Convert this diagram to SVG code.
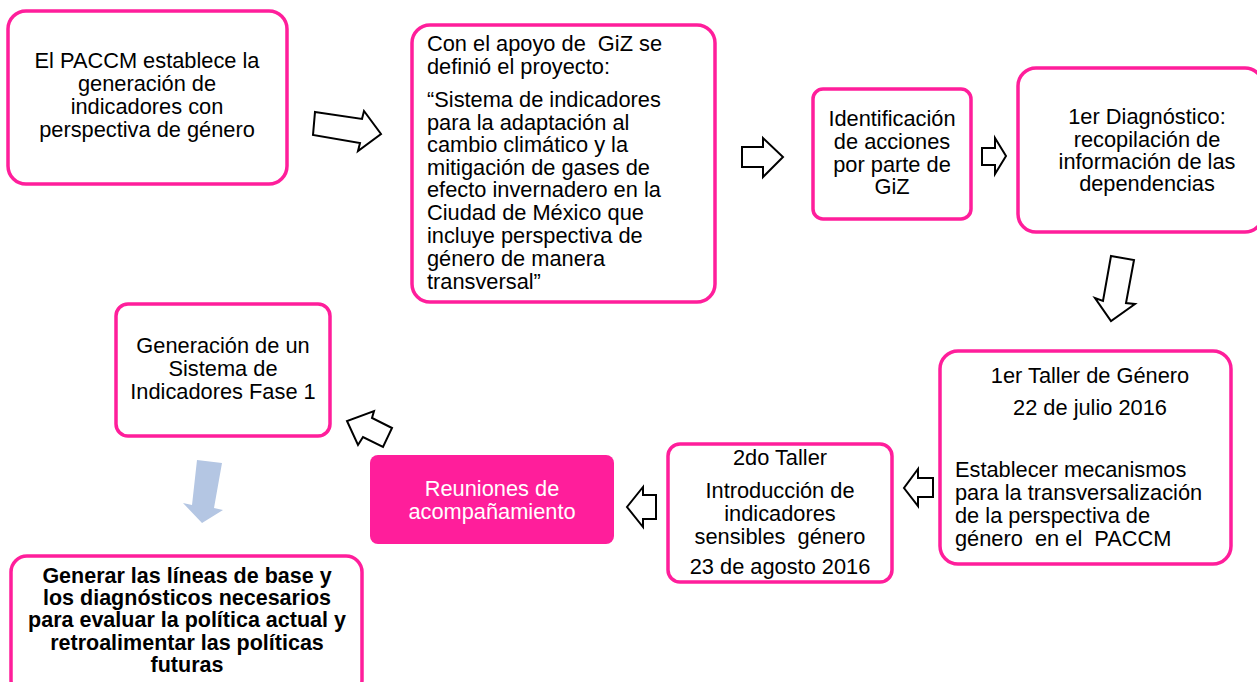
<svg xmlns="http://www.w3.org/2000/svg" width="1257" height="682" viewBox="0 0 1257 682">
<style>
.box{fill:#fff;stroke:#FF1E9B;stroke-width:3.5}
.t{font-family:"Liberation Sans",Arial,sans-serif;font-size:21.8px;fill:#000;white-space:pre}
.c{text-anchor:middle}
.b{font-weight:bold;font-size:21.5px}
.w{fill:#fff}
.arr{fill:#fff;stroke:#000;stroke-width:2;stroke-linejoin:miter}
</style>
<rect width="1257" height="682" fill="#fff"/>
<g id="connectors">
<polygon class="arr" points="315,112 362,119 364,111 381,134 358,151 360,143 313,135"/>
<polygon class="arr" points="742,147 763,147 763,138 783,157 763,177 763,167 742,167"/>
<polygon class="arr" points="982,148 995,148 995,138 1006,156 995,174 995,165 982,165"/>
<polygon class="arr" points="1111,256 1134,260 1126,303 1135,304 1111,321 1095,298 1103,301"/>
<polygon class="arr" points="933,478 918,478 918,469 904,488 918,506 918,497 933,497"/>
<polygon class="arr" points="656,495 643,495 643,487 627,507 643,527 643,519 656,519"/>
<polygon class="arr" points="392,428 372,418 374,411 347,421 358,445 363,437 383,447"/>
<polygon fill="#B4C6E3" points="197,460 222,463 214,508 223,510 202,523 183,503 192,505"/>
</g>
<g id="n1">
<rect class="box" x="8" y="11" width="279" height="173" rx="18"/>
<text class="t c"><tspan x="147" y="68">El PACCM establece la</tspan><tspan x="147" y="91">generación de</tspan><tspan x="147" y="114">indicadores con</tspan><tspan x="147" y="137">perspectiva de género</tspan></text>
</g>
<g id="n2">
<rect class="box" x="412" y="25" width="303" height="277" rx="18"/>
<text class="t"><tspan x="427" y="51">Con el apoyo de  GiZ se</tspan><tspan x="427" y="74">definió el proyecto:</tspan><tspan x="427" y="107">“Sistema de indicadores</tspan><tspan x="427" y="130">para la adaptación al</tspan><tspan x="427" y="152">cambio climático y la</tspan><tspan x="427" y="175">mitigación de gases de</tspan><tspan x="427" y="197">efecto invernadero en la</tspan><tspan x="427" y="220">Ciudad de México que</tspan><tspan x="427" y="243">incluye perspectiva de</tspan><tspan x="427" y="266">género de manera</tspan><tspan x="427" y="289">transversal”</tspan></text>
</g>
<g id="n3">
<rect class="box" x="813" y="89" width="158" height="130" rx="10"/>
<text class="t c"><tspan x="892" y="126">Identificación</tspan><tspan x="892" y="149">de acciones</tspan><tspan x="892" y="172">por parte de</tspan><tspan x="892" y="194">GiZ</tspan></text>
</g>
<g id="n4">
<rect class="box" x="1018" y="68" width="245" height="164" rx="18"/>
<text class="t c"><tspan x="1147" y="124">1er Diagnóstico:</tspan><tspan x="1147" y="147">recopilación de</tspan><tspan x="1147" y="169">información de las</tspan><tspan x="1147" y="191">dependencias</tspan></text>
</g>
<g id="n5">
<rect class="box" x="940" y="351" width="291" height="213" rx="18"/>
<text class="t c"><tspan x="1090" y="383">1er Taller de Género</tspan><tspan x="1090" y="415">22 de julio 2016</tspan></text>
<text class="t"><tspan x="955" y="477">Establecer mecanismos</tspan><tspan x="955" y="500">para la transversalización</tspan><tspan x="955" y="523">de la perspectiva de</tspan><tspan x="955" y="546">género  en el  PACCM</tspan></text>
</g>
<g id="n6">
<rect class="box" x="668" y="444" width="224" height="138" rx="12"/>
<text class="t c"><tspan x="780" y="465">2do Taller</tspan><tspan x="780" y="498">Introducción de</tspan><tspan x="780" y="521">indicadores</tspan><tspan x="780" y="544">sensibles  género</tspan><tspan x="780" y="574">23 de agosto 2016</tspan></text>
</g>
<g id="n7">
<rect x="370" y="455" width="244" height="89" rx="8" fill="#FF1E9B"/>
<text class="t c w"><tspan x="492" y="496">Reuniones de</tspan><tspan x="492" y="519">acompañamiento</tspan></text>
</g>
<g id="n8">
<rect class="box" x="116" y="304" width="214" height="132" rx="12"/>
<text class="t c"><tspan x="223" y="353">Generación de un</tspan><tspan x="223" y="376">Sistema de</tspan><tspan x="223" y="399">Indicadores Fase 1</tspan></text>
</g>
<g id="n9">
<rect class="box" x="11" y="556" width="351" height="140" rx="16"/>
<text class="t c b"><tspan x="187" y="583">Generar las líneas de base y</tspan><tspan x="187" y="605">los diagnósticos necesarios</tspan><tspan x="187" y="627">para evaluar la política actual y</tspan><tspan x="187" y="650">retroalimentar las políticas</tspan><tspan x="187" y="672">futuras</tspan></text>
</g>
</svg>
